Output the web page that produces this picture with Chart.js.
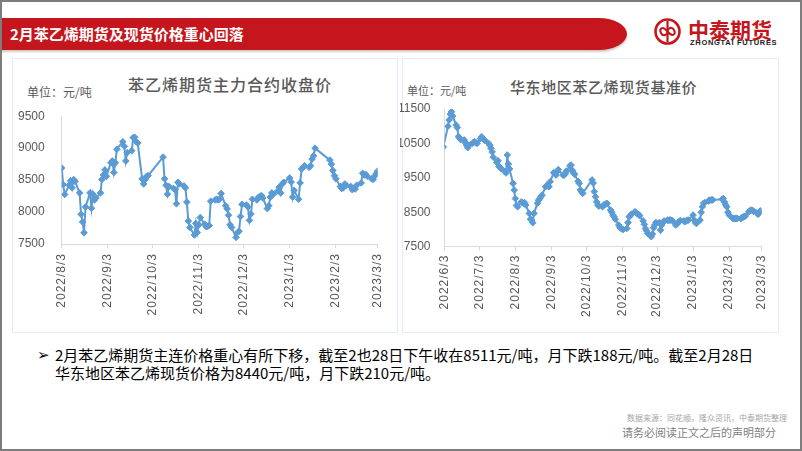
<!DOCTYPE html>
<html><head><meta charset="utf-8">
<script src="https://cdn.jsdelivr.net/npm/chart.js@4.4.1/dist/chart.umd.min.js"></script>
<style>
html,body{margin:0;padding:0;background:#fff}
body{width:802px;height:451px;overflow:hidden;position:relative;font-family:"Noto Sans CJK SC","Noto Sans",sans-serif}
.abs{position:absolute;white-space:nowrap}
#frame{left:0;top:0;width:802px;height:451px;box-sizing:border-box;border:2px solid #7d7d7d;position:absolute;pointer-events:none;z-index:10}
#band{left:0;top:18px;width:627px;height:32px;background:#c4161c;border-top-right-radius:28px 16px;border-bottom-right-radius:28px 16px;box-shadow:0 2px 2px rgba(120,100,80,0.35)}
#bandText{left:10px;top:18px;height:32px;line-height:32px;color:#fff;font-weight:bold;font-size:15px}
#logoCn{left:688px;top:15px;font-size:21px;line-height:28px;font-weight:bold;color:#c4161c}
#logoEn{left:690px;top:39px;font-family:"Liberation Sans",Arial,sans-serif;font-size:7.5px;line-height:8px;font-weight:bold;color:#1a1a1a;letter-spacing:0.7px}
.panel{position:absolute;border:1px solid #e3ecf6;box-sizing:border-box}
.ctitle{color:#595959;font-size:16px;line-height:20px;font-weight:500}
.unit{color:#595959;font-size:12px;line-height:14px}
canvas{position:absolute}
#note{left:37px;top:346px;font-size:15px;line-height:18px;color:#000}
#src{right:15px;top:413px;font-size:8px;line-height:10px;color:#a6a6a6}
#decl{left:622px;top:425px;font-size:11px;line-height:15px;color:#7f7f7f}
</style>
</head><body>
<div id="frame"></div>
<div id="band" class="abs"></div>
<div id="bandText" class="abs">2月苯乙烯期货及现货价格重心回落</div>
<svg class="abs" style="left:653px;top:17px" width="30" height="30" viewBox="0 0 30 30">
  <circle cx="14.5" cy="14.5" r="12" fill="none" stroke="#c4161c" stroke-width="2.6"/>
  <path d="M14.5 4 L14.5 25" stroke="#c4161c" stroke-width="2.2"/>
  <path d="M14.5 14.5 C 9 8, 6 12, 8 16 C 10 20, 14.5 18, 14.5 14.5 C 14.5 11, 19 9, 21 13 C 23 17, 20 21, 14.5 14.5" fill="none" stroke="#c4161c" stroke-width="2"/>
</svg>
<div id="logoCn" class="abs">中泰期货</div>
<div id="logoEn" class="abs">ZHONGTAI FUTURES</div>

<div class="panel" style="left:12px;top:58px;width:386px;height:275px"></div>
<div class="panel" style="left:402px;top:58px;width:377px;height:275px"></div>

<div class="abs ctitle" style="left:128px;top:74px;letter-spacing:1px;font-size:16px">苯乙烯期货主力合约收盘价</div>
<div class="abs unit" style="left:27px;top:85px">单位：元/吨</div>
<div class="abs ctitle" style="left:510px;top:77px;letter-spacing:0.6px;font-size:15px">华东地区苯乙烯现货基准价</div>
<div class="abs unit" style="left:407px;top:83px;font-size:11px">单位：元/吨</div>

<canvas id="c1" width="385" height="230" style="left:12px;top:100px"></canvas>
<canvas id="c2" width="380" height="235" style="left:400px;top:95px"></canvas>

<div id="note" class="abs"><span style="position:absolute;left:0;top:0;font-family:'DejaVu Sans';font-size:15px">➢</span><div style="margin-left:18px">2月苯乙烯期货主连价格重心有所下移，截至2也28日下午收在8511元/吨，月下跌188元/吨。截至2月28日<br>华东地区苯乙烯现货价格为8440元/吨，月下跌210元/吨。</div></div>
<div id="src" class="abs">数据来源：同花顺，隆众资讯，中泰期货整理</div>
<div id="decl" class="abs">请务必阅读正文之后的声明部分</div>

<script>
// ---------- data ----------
const FUT_DATES = [
'2022/8/3','2022/8/4','2022/8/5','2022/8/8','2022/8/9','2022/8/10','2022/8/11','2022/8/12',
'2022/8/15','2022/8/16','2022/8/17','2022/8/18','2022/8/19','2022/8/22','2022/8/23','2022/8/24','2022/8/25','2022/8/26',
'2022/8/29','2022/8/30','2022/8/31','2022/9/1','2022/9/2','2022/9/5','2022/9/6','2022/9/7','2022/9/8','2022/9/9',
'2022/9/13','2022/9/14','2022/9/15','2022/9/16','2022/9/19','2022/9/20','2022/9/21','2022/9/22','2022/9/23',
'2022/9/26','2022/9/27','2022/9/28','2022/9/29','2022/9/30',
'2022/10/10','2022/10/11','2022/10/12','2022/10/13','2022/10/14','2022/10/17','2022/10/18','2022/10/19','2022/10/20','2022/10/21',
'2022/10/24','2022/10/25','2022/10/26','2022/10/27','2022/10/28','2022/10/31',
'2022/11/1','2022/11/2','2022/11/3','2022/11/4','2022/11/7','2022/11/8','2022/11/9','2022/11/10','2022/11/11',
'2022/11/14','2022/11/15','2022/11/16','2022/11/17','2022/11/18','2022/11/21','2022/11/22','2022/11/23','2022/11/24','2022/11/25',
'2022/11/28','2022/11/29','2022/11/30','2022/12/1','2022/12/2','2022/12/5','2022/12/6','2022/12/7','2022/12/8','2022/12/9',
'2022/12/12','2022/12/13','2022/12/14','2022/12/15','2022/12/16','2022/12/19','2022/12/20','2022/12/21','2022/12/22','2022/12/23',
'2022/12/26','2022/12/27','2022/12/28','2022/12/29','2022/12/30',
'2023/1/3','2023/1/4','2023/1/5','2023/1/6','2023/1/9','2023/1/10','2023/1/11','2023/1/12','2023/1/13',
'2023/1/16','2023/1/17','2023/1/18','2023/1/19','2023/1/20','2023/1/30','2023/1/31',
'2023/2/1','2023/2/2','2023/2/3','2023/2/6','2023/2/7','2023/2/8','2023/2/9','2023/2/10',
'2023/2/13','2023/2/14','2023/2/15','2023/2/16','2023/2/17','2023/2/20','2023/2/21','2023/2/22','2023/2/23','2023/2/24',
'2023/2/27','2023/2/28','2023/3/1','2023/3/2','2023/3/3'];
const FUT_CLOSE = [
8690,8430,8275,8420,8490,8380,8510,8480,
8300,7965,7846,7676,8080,8300,8060,8280,8190,8220,
8300,8510,8580,8660,8560,8770,8800,8620,8770,8983,
9100,9030,8800,8930,8960,9165,9170,9100,9080,
8520,8440,8510,8560,8570,
8860,8520,8420,8280,8400,8370,8350,8130,8466,8440,
8410,8380,8156,7860,7760,7640,
7820,7680,7800,7915,7810,7770,7780,7790,8170,
8190,8200,8190,8200,8290,8100,8050,7950,7800,7760,
7604,7680,7700,7930,8120,8110,8080,7870,7970,8200,
8190,8230,8240,8260,8220,8054,8100,8234,8300,8280,
8330,8390,8300,8440,8466,
8534,8470,8234,8340,8200,8456,8674,8700,8725,
8700,8725,8829,8880,9000,8813,8750,
8650,8570,8520,8400,8370,8380,8440,8420,
8400,8350,8370,8360,8420,8456,8606,8580,8590,8560,
8520,8511,8560,8600,8640];

const SPOT_DATES = [
'2022/6/2','2022/6/6','2022/6/7','2022/6/8','2022/6/9','2022/6/10','2022/6/13','2022/6/14','2022/6/15','2022/6/16','2022/6/17',
'2022/6/20','2022/6/21','2022/6/22','2022/6/23','2022/6/24','2022/6/27','2022/6/28','2022/6/29','2022/6/30','2022/7/1',
'2022/7/4','2022/7/5','2022/7/6','2022/7/7','2022/7/8','2022/7/11','2022/7/12','2022/7/13','2022/7/14','2022/7/15',
'2022/7/18','2022/7/19','2022/7/20','2022/7/21','2022/7/22','2022/7/25','2022/7/26','2022/7/27','2022/7/28','2022/7/29',
'2022/8/1','2022/8/2','2022/8/3','2022/8/4','2022/8/5','2022/8/8','2022/8/9','2022/8/10','2022/8/11','2022/8/12',
'2022/8/15','2022/8/16','2022/8/17','2022/8/18','2022/8/19','2022/8/22','2022/8/23','2022/8/24','2022/8/25','2022/8/26',
'2022/8/29','2022/8/30','2022/8/31','2022/9/1','2022/9/2','2022/9/5','2022/9/6','2022/9/7','2022/9/8','2022/9/9',
'2022/9/13','2022/9/14','2022/9/15','2022/9/16','2022/9/19','2022/9/20','2022/9/21','2022/9/22','2022/9/23',
'2022/9/26','2022/9/27','2022/9/28','2022/9/29','2022/9/30',
'2022/10/8','2022/10/9','2022/10/10','2022/10/11','2022/10/12','2022/10/13','2022/10/14',
'2022/10/17','2022/10/18','2022/10/19','2022/10/20','2022/10/21','2022/10/24','2022/10/25','2022/10/26','2022/10/27','2022/10/28',
'2022/10/31','2022/11/1','2022/11/2','2022/11/3','2022/11/4','2022/11/7','2022/11/8','2022/11/9','2022/11/10','2022/11/11',
'2022/11/14','2022/11/15','2022/11/16','2022/11/17','2022/11/18','2022/11/21','2022/11/22','2022/11/23','2022/11/24','2022/11/25',
'2022/11/28','2022/11/29','2022/11/30','2022/12/1','2022/12/2','2022/12/5','2022/12/6','2022/12/7','2022/12/8','2022/12/9',
'2022/12/12','2022/12/13','2022/12/14','2022/12/15','2022/12/16','2022/12/19','2022/12/20','2022/12/21','2022/12/22','2022/12/23',
'2022/12/26','2022/12/27','2022/12/28','2022/12/29','2022/12/30',
'2023/1/3','2023/1/4','2023/1/5','2023/1/6','2023/1/9','2023/1/10','2023/1/11','2023/1/12','2023/1/13',
'2023/1/16','2023/1/17','2023/1/18','2023/1/19','2023/1/20','2023/1/28','2023/1/29','2023/1/30','2023/1/31',
'2023/2/1','2023/2/2','2023/2/3','2023/2/6','2023/2/7','2023/2/8','2023/2/9','2023/2/10',
'2023/2/13','2023/2/14','2023/2/15','2023/2/16','2023/2/17','2023/2/20','2023/2/21','2023/2/22','2023/2/23','2023/2/24',
'2023/2/27','2023/2/28','2023/3/1','2023/3/2'];
const SPOT_PRICE = [
10400,11000,11180,11350,11420,11300,11035,10960,10700,10650,10610,
10600,10520,10450,10375,10450,10500,10530,10550,10520,10500,
10640,10695,10650,10610,10580,10500,10450,10357,10250,10100,
9950,10000,9830,9800,9760,9690,9640,10163,9900,9760,
9340,9145,8900,8700,8660,8800,8780,8760,8780,8710,
8468,8300,8273,8195,8468,8760,8850,8900,8960,9000,
9240,9280,9270,9240,9390,9650,9630,9580,9680,9740,
9580,9580,9620,9700,9850,9870,9720,9650,9600,
9400,9340,9150,9100,9050,
9440,9350,9100,8950,8800,8710,8680,
8660,8710,8720,8740,8760,8564,8500,8420,8370,8300,
8128,8060,8030,8010,8000,8030,8200,8370,8400,8448,
8515,8480,8460,8440,8400,8250,8150,8030,7960,7880,
7790,7870,8050,8130,8200,8200,7983,8130,8200,8250,
8273,8260,8280,8273,8260,8130,8150,8200,8224,8260,
8250,8224,8250,8270,8273,
8419,8273,8200,8176,8273,8500,8660,8760,8780,
8830,8850,8855,8860,8860,8880,8900,8800,8720,
8660,8500,8420,8330,8320,8310,8330,8320,
8310,8340,8360,8380,8390,8515,8540,8564,8560,8530,
8480,8440,8500,8540];

const FUT_X_TICKS = ['2022/8/3','2022/9/3','2022/10/3','2022/11/3','2022/12/3','2023/1/3','2023/2/3','2023/3/3'];
const SPOT_X_TICKS = ['2022/6/3','2022/7/3','2022/8/3','2022/9/3','2022/10/3','2022/11/3','2022/12/3','2023/1/3','2023/2/3','2023/3/3'];
const FUT_Y_TICKS = [7500,8000,8500,9000,9500];
const SPOT_Y_TICKS = [7500,8500,9500,10500,11500];

// ---------- helpers ----------
const BASE = Date.UTC(2022,0,1);
function toDay(s){const [y,m,d]=s.split('/').map(Number);return (Date.UTC(y,m-1,d)-BASE)/864e5;}

const spacingPlugin = {
  id:'xLabelSpacing',
  afterDatasetsDraw(chart){ chart.ctx.letterSpacing='1px'; },
  afterDraw(chart){ chart.ctx.letterSpacing='0px'; }
};

function makeChart(id, dates, values, xTicks, yTicks, geo){
  const tickMap = {};
  xTicks.forEach(l=>{tickMap[toDay(l)]=l;});
  const pts = dates.map((d,i)=>({x:toDay(d), y:values[i]}));
  return new Chart(document.getElementById(id),{
    type:'line',
    data:{datasets:[{
      data:pts,
      borderColor:'#5b9bd5',backgroundColor:'#5b9bd5',
      borderWidth:2,pointStyle:'rectRot',pointRadius:3.3,pointHoverRadius:3.3,
      pointBorderWidth:1,pointBorderColor:'#5b9bd5',pointBackgroundColor:'#5b9bd5',
      tension:0
    }]},
    options:{
      responsive:false,animation:false,devicePixelRatio:1,
      layout:{padding:{left:0,right:geo.padR,top:geo.padT,bottom:0}},
      plugins:{legend:{display:false},tooltip:{enabled:false},title:{display:false}},
      scales:{
        x:{type:'linear',
           min:toDay(xTicks[0]),max:toDay(xTicks[xTicks.length-1]),
           afterBuildTicks:s=>{s.ticks=xTicks.map(l=>({value:toDay(l)}));},
           afterFit:s=>{s.height=geo.xh;},
           grid:{display:true,drawOnChartArea:false,drawTicks:true,tickLength:4,color:'#d9d9d9'},
           border:{display:true,color:'#d9d9d9',width:1},
           ticks:{z:1,autoSkip:false,maxRotation:90,minRotation:90,padding:geo.xPad,
                  color:'#595959',font:{family:'"Liberation Sans", Arial, sans-serif',size:12},
                  callback:v=>tickMap[v]||''}},
        y:{type:'linear',min:yTicks[0],max:yTicks[yTicks.length-1],
           afterBuildTicks:s=>{s.ticks=yTicks.map(v=>({value:v}));},
           afterFit:s=>{s.width=geo.yw;},
           grid:{display:false},
           border:{display:true,color:'#d9d9d9',width:1},
           ticks:{padding:geo.yPad,color:'#595959',font:{family:'"Liberation Sans", Arial, sans-serif',size:12},
                  callback:v=>String(v)}}
      }
    },
    plugins:[spacingPlugin]
  });
}

makeChart('c1', FUT_DATES, FUT_CLOSE, FUT_X_TICKS, FUT_Y_TICKS, {yw:49.7,padR:10.3,padT:15,xh:86,xPad:5,yPad:9});
makeChart('c2', SPOT_DATES, SPOT_PRICE, SPOT_X_TICKS, SPOT_Y_TICKS, {yw:44.5,padR:16.7,padT:14,xh:83.3,xPad:4,yPad:6});
</script>
</body></html>
